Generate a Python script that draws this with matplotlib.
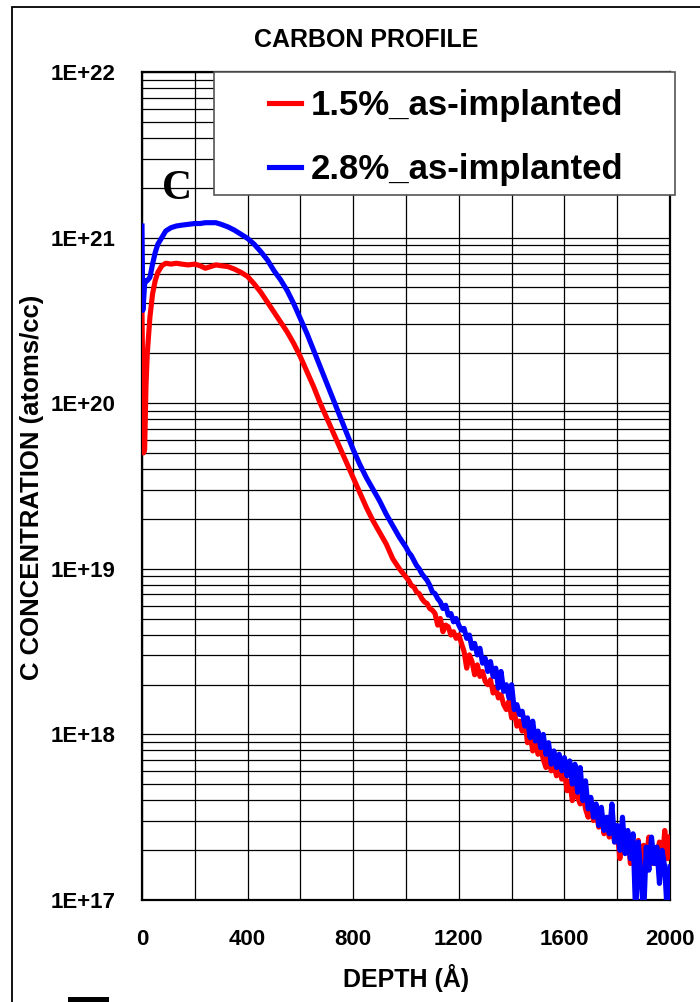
import numpy as np
import matplotlib
matplotlib.use("Agg")
import matplotlib.pyplot as plt
from matplotlib.patches import Rectangle

plt.rcParams['font.family'] = ['Liberation Sans', 'DejaVu Sans']

# ---------------- data (depth in Angstrom, log10 of concentration) -------------
depth_a = [0, 3, 6, 10, 15, 20, 30, 40, 50, 60, 75, 90, 110, 130, 150, 175, 200,
           220, 240, 260, 280, 300, 325, 350, 375, 400, 425, 450, 475, 500, 525,
           550, 575, 600, 625, 650, 675, 700, 725, 750, 775, 800, 825, 850, 875,
           900, 925, 950, 975]
depth_b = list(range(1000, 2001, 10))
depth = depth_a + depth_b

red_log_a = [20.55, 20.10, 19.70, 19.72, 20.10, 20.30, 20.52, 20.66, 20.74, 20.79,
             20.83, 20.845, 20.84, 20.845, 20.84, 20.835, 20.84, 20.83, 20.815,
             20.825, 20.835, 20.83, 20.825, 20.81, 20.79, 20.765, 20.72, 20.67,
             20.61, 20.55, 20.49, 20.43, 20.36, 20.28, 20.19, 20.10, 20.00, 19.91,
             19.82, 19.73, 19.64, 19.55, 19.46, 19.37, 19.29, 19.22, 19.15, 19.06,
             19.00]
red_log_b = [18.95, 18.93, 18.90, 18.89, 18.86, 18.85, 18.82, 18.80, 18.79, 18.76,
             18.75, 18.73, 18.66, 18.70, 18.62, 18.66, 18.65, 18.60, 18.62, 18.58,
             18.60, 18.55, 18.50, 18.40, 18.48, 18.44, 18.36, 18.42, 18.35, 18.38,
             18.32, 18.30, 18.33, 18.25, 18.28, 18.22, 18.24, 18.18, 18.15, 18.20,
             18.10, 18.14, 18.05, 18.08, 18.02, 18.10, 17.95, 18.00, 17.90, 17.97,
             17.88, 17.92, 17.85, 17.80, 17.88, 17.78, 17.82, 17.75, 17.80, 17.73,
             17.78, 17.66, 17.72, 17.60, 17.68, 17.62, 17.58, 17.65, 17.55, 17.50,
             17.60, 17.48, 17.55, 17.44, 17.52, 17.40, 17.48, 17.38, 17.46, 17.35,
             17.42, 17.25, 17.38, 17.30, 17.40, 17.22, 17.35, 17.28, 17.36, 17.20,
             17.33, 17.25, 17.38, 17.22, 17.30, 17.26, 17.35, 17.20, 17.42, 17.25,
             17.38]

blue_log_a = [21.07, 20.56, 20.62, 20.72, 20.74, 20.74, 20.76, 20.84, 20.91, 20.96,
              21.00, 21.04, 21.06, 21.07, 21.075, 21.08, 21.085, 21.085, 21.09,
              21.09, 21.09, 21.08, 21.065, 21.045, 21.02, 20.995, 20.96, 20.915,
              20.865, 20.80, 20.745, 20.68, 20.60, 20.51, 20.42, 20.32, 20.22,
              20.12, 20.02, 19.92, 19.82, 19.72, 19.63, 19.55, 19.48, 19.41, 19.33,
              19.26, 19.19]
blue_log_b = [19.13, 19.10, 19.08, 19.05, 19.02, 19.00, 18.97, 18.95, 18.93, 18.90,
              18.86, 18.85, 18.82, 18.80, 18.76, 18.78, 18.72, 18.73, 18.68, 18.70,
              18.66, 18.63, 18.64, 18.58, 18.60, 18.52, 18.55, 18.48, 18.52, 18.43,
              18.46, 18.38, 18.44, 18.35, 18.40, 18.28, 18.38, 18.26, 18.30, 18.22,
              18.30, 18.15, 18.18, 18.12, 18.14, 18.05, 18.10, 17.98, 18.08, 17.96,
              18.02, 17.92, 18.00, 17.88, 17.95, 17.82, 17.90, 17.80, 17.88, 17.78,
              17.86, 17.75, 17.84, 17.70, 17.82, 17.65, 17.80, 17.60, 17.72, 17.55,
              17.62, 17.50, 17.58, 17.45, 17.56, 17.42, 17.50, 17.40, 17.58, 17.35,
              17.45, 17.30, 17.50, 17.28, 17.42, 17.25, 17.40, 16.90, 17.35, 17.15,
              16.90, 17.32, 17.18, 17.38, 17.22, 17.32, 17.10, 17.30, 17.20, 16.90,
              17.20]

series_names = ['1.5%_as-implanted', '2.8%_as-implanted']
series_colors = ['#ff0000', '#0000ff']

x_ticks = [0, 400, 800, 1200, 1600, 2000]
y_ticks = [1e17, 1e18, 1e19, 1e20, 1e21, 1e22]
y_tick_labels = ['1E+17', '1E+18', '1E+19', '1E+20', '1E+21', '1E+22']

# ---------------- figure -------------------------------------------------------
W, H = 700, 1002
fig = plt.figure(figsize=(W / 100, H / 100), dpi=100)
fig.patch.set_facecolor('white')

ax_l, ax_t, ax_r, ax_b = 142, 72, 670, 900
ax = fig.add_axes([ax_l / W, 1 - ax_b / H, (ax_r - ax_l) / W, (ax_b - ax_t) / H])

red = 10 ** np.array(red_log_a + red_log_b)
blue = 10 ** np.array(blue_log_a + blue_log_b)

l1, = ax.plot(depth, red, color=series_colors[0], lw=3.7, zorder=3,
              solid_joinstyle='round', label=series_names[0])
l2, = ax.plot(depth, blue, color=series_colors[1], lw=3.7, zorder=3,
              solid_joinstyle='round', label=series_names[1])

ax.set_yscale('log')
ax.set_xlim(0, 2000)
ax.set_ylim(1e17, 1e22)

ax.set_xticks(x_ticks)
ax.set_xticks(np.arange(0, 2001, 200), minor=True)
ax.set_xticklabels([str(v) for v in x_ticks])
ax.set_yticks(y_ticks)
ax.set_yticklabels(y_tick_labels)
ax.yaxis.set_minor_locator(matplotlib.ticker.LogLocator(base=10, subs=np.arange(2, 10)))
ax.yaxis.set_minor_formatter(matplotlib.ticker.NullFormatter())

ax.grid(True, which='both', color='black', lw=0.9, zorder=1)
ax.set_axisbelow(True)
for s in ax.spines.values():
    s.set_linewidth(1.6)
    s.set_color('black')

ax.tick_params(axis='both', which='both', direction='in', length=0)
ax.tick_params(axis='y', which='major', pad=19, labelsize=16)
ax.tick_params(axis='x', which='major', pad=21, labelsize=16)
for lab in ax.get_xticklabels() + ax.get_yticklabels():
    lab.set_fontweight('bold')

ax.set_xlabel('DEPTH (Å)', fontsize=18, fontweight='bold')
ax.xaxis.set_label_coords((406 - ax_l) / (ax_r - ax_l), (ax_b - 978) / (ax_b - ax_t))
ax.xaxis.label.set_va('center')
ax.set_ylabel('C CONCENTRATION (atoms/cc)', fontsize=18.5, fontweight='bold')
ax.yaxis.set_label_coords((32 - ax_l) / (ax_r - ax_l), (ax_b - 487) / (ax_b - ax_t))
ax.yaxis.label.set_va('center')

ax.text((366 - ax_l) / (ax_r - ax_l), (ax_b - 40) / (ax_b - ax_t), 'CARBON PROFILE',
        transform=ax.transAxes, ha='center', va='center', fontsize=18,
        fontweight='bold')

ax.text((177 - ax_l) / (ax_r - ax_l), (ax_b - 189) / (ax_b - ax_t), 'C',
        transform=ax.transAxes, ha='center', va='center', fontsize=30,
        fontweight='bold', family=['Liberation Serif', 'DejaVu Serif'], zorder=4)

# legend box
lx0, ly0, lx1, ly1 = 214, 72, 675, 195
box = Rectangle((lx0 / W, 1 - ly1 / H), (lx1 - lx0) / W, (ly1 - ly0) / H,
                transform=fig.transFigure, facecolor='white', edgecolor='#555555',
                lw=1.2, clip_on=False, zorder=6)
ax.add_patch(box)
shift = 4
leg = ax.legend(handles=[l1, l2], loc='center',
                bbox_to_anchor=(lx0 / W + 2 / W, 1 - (ly1 + shift) / H,
                                (lx1 - lx0) / W, (ly1 - ly0) / H),
                bbox_transform=fig.transFigure, frameon=False,
                prop={'weight': 'bold', 'size': 25}, handlelength=0.9,
                handletextpad=0.3, labelspacing=0.9, borderpad=0.2)
leg.set_zorder(7)

# outer frame and small block
frame = Rectangle((12 / W, -0.05), 1.2, 1 - 7 / H + 0.05, transform=fig.transFigure,
                  facecolor='none', edgecolor='black', lw=1.3, clip_on=False)
fig.patches.append(frame)
block = Rectangle((68 / W, 0), 41 / W, 5 / H, transform=fig.transFigure,
                  facecolor='black', edgecolor='none', clip_on=False)
fig.patches.append(block)

fig.savefig('out.png', dpi=100)
